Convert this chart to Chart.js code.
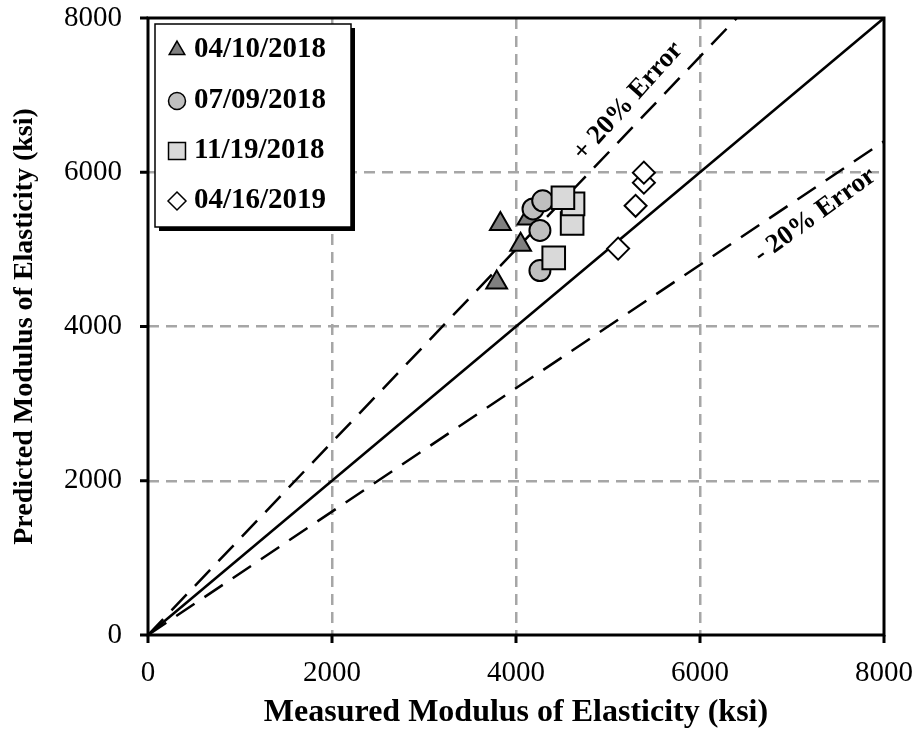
<!DOCTYPE html>
<html>
<head>
<meta charset="utf-8">
<script src="https://cdn.jsdelivr.net/npm/chart.js@4.4.0/dist/chart.umd.min.js"></script>
<style>
  html, body { margin: 0; padding: 0; background: #fff; }
  #wrap { width: 920px; height: 734px; }
</style>
</head>
<body>
<div id="wrap"><canvas id="chart" width="920" height="734"></canvas></div>
<script>
// Sampling dates
const seriesNames = ['04/10/2018', '07/09/2018', '11/19/2018', '04/16/2019'];

// Measured vs predicted modulus (ksi) for each date
const measured0410 = [3790, 3830, 4050, 4130];
const predicted0410 = [4570, 5330, 5060, 5400];
const measured0709 = [4185, 4290, 4260, 4260];
const predicted0709 = [5525, 5630, 5245, 4725];
const measured1119 = [4410, 4610, 4620, 4510];
const predicted1119 = [4890, 5335, 5590, 5670];
const measured0416 = [5110, 5300, 5390, 5390];
const predicted0416 = [5010, 5565, 5865, 5995];

// Equality line and +/- 20% error bounds
const equalityX = [0, 8000];
const equalityY = [0, 8000];
const upperX = [0, 6400];
const upperY = [0, 8000];
const lowerX = [0, 8000];
const lowerY = [0, 6400];

const axisTicks = [0, 2000, 4000, 6000, 8000];
const upperLabel = '+ 20% Error';
const lowerLabel = '- 20% Error';

const FONT = "'Liberation Serif', 'Times New Roman', serif";

function toPoints(xs, ys) {
    return xs.map((x, i) => ({ x: x, y: ys[i] }));
}

const markerStyles = [
    { pointStyle: 'triangle', radius: 12, fill: '#808080' },
    { pointStyle: 'circle', radius: 10.5, fill: '#bfbfbf' },
    { pointStyle: 'rect', radius: 16, fill: '#d9d9d9' },
    { pointStyle: 'rectRot', radius: 11, fill: '#ffffff' }
];
const seriesData = [
    toPoints(measured0410, predicted0410),
    toPoints(measured0709, predicted0709),
    toPoints(measured1119, predicted1119),
    toPoints(measured0416, predicted0416)
];

const scatterSets = seriesNames.map((name, i) => ({
    type: 'scatter',
    label: name,
    data: seriesData[i],
    pointStyle: markerStyles[i].pointStyle,
    pointRadius: markerStyles[i].radius,
    pointHoverRadius: markerStyles[i].radius,
    backgroundColor: markerStyles[i].fill,
    borderColor: '#000',
    borderWidth: 2,
    order: 4 - i
}));

function refLine(label, xs, ys, dash) {
    return {
        type: 'line',
        label: label,
        data: toPoints(xs, ys),
        borderColor: '#000',
        borderWidth: 2.5,
        borderDash: dash,
        pointRadius: 0,
        fill: false,
        order: 10
    };
}

// Frame around the plot area plus outward tick marks
const framePlugin = {
    id: 'frame',
    afterDatasetsDraw(chart) {
        const a = chart.chartArea;
        const xs = chart.scales.x, ys = chart.scales.y;
        const ctx = chart.ctx;
        ctx.save();
        ctx.strokeStyle = '#000';
        ctx.lineWidth = 3;
        ctx.strokeRect(a.left, a.top, a.right - a.left, a.bottom - a.top);
        ctx.beginPath();
        axisTicks.forEach(v => {
            const px = xs.getPixelForValue(v);
            ctx.moveTo(px, a.bottom);
            ctx.lineTo(px, a.bottom + 8);
            const py = ys.getPixelForValue(v);
            ctx.moveTo(a.left, py);
            ctx.lineTo(a.left - 8, py);
        });
        ctx.stroke();
        ctx.restore();
    }
};

// Rotated labels for the error bounds
const errorLabelPlugin = {
    id: 'errorLabels',
    afterDatasetsDraw(chart) {
        const xs = chart.scales.x, ys = chart.scales.y;
        const ctx = chart.ctx;
        function drawAlong(text, cx, cy, angleDeg) {
            const px = xs.getPixelForValue(cx), py = ys.getPixelForValue(cy);
            ctx.save();
            ctx.translate(px, py);
            ctx.rotate(-angleDeg * Math.PI / 180);
            ctx.font = 'bold 27px ' + FONT;
            ctx.fillStyle = '#000';
            ctx.textAlign = 'center';
            ctx.textBaseline = 'middle';
            ctx.fillText(text, 0, 0);
            ctx.restore();
        }
        drawAlong(upperLabel, 5220, 6920, 48);
        drawAlong(lowerLabel, 7250, 5440, 36);
    }
};

// Boxed legend with a drop shadow inside the plot area
const legendPlugin = {
    id: 'boxLegend',
    afterDraw(chart) {
        const ctx = chart.ctx;
        const left = 155, top = 24, w = 196, h = 203;
        ctx.save();
        ctx.fillStyle = '#000';
        ctx.fillRect(left + 4, top + 4, w, h);
        ctx.fillStyle = '#fff';
        ctx.fillRect(left, top, w, h);
        ctx.strokeStyle = '#000';
        ctx.lineWidth = 1.5;
        ctx.strokeRect(left, top, w, h);
        const rowY = [49, 100, 150, 200];
        const legendRadius = [9, 8.5, 12, 9];
        seriesNames.forEach((name, i) => {
            ctx.fillStyle = markerStyles[i].fill;
            ctx.strokeStyle = '#000';
            ctx.lineWidth = 1.5;
            Chart.helpers.drawPoint(ctx, {
                pointStyle: markerStyles[i].pointStyle,
                radius: legendRadius[i],
                rotation: 0,
                borderWidth: 1.5
            }, 177, rowY[i] + 1);
            ctx.fillStyle = '#000';
            ctx.font = 'bold 29px ' + FONT;
            ctx.textAlign = 'left';
            ctx.textBaseline = 'middle';
            ctx.fillText(name, 194, rowY[i] + 1);
        });
        ctx.restore();
    }
};

const gridColor = (c) => (c.tick && (c.tick.value === 0 || c.tick.value === 8000)) ? 'rgba(0,0,0,0)' : '#a6a6a6';

const gridOpts = {
    color: gridColor,
    lineWidth: 2.5,
    drawTicks: true,
    tickLength: 8,
    tickColor: 'rgba(0,0,0,0)'
};

new Chart(document.getElementById('chart').getContext('2d'), {
    data: {
        datasets: [
            ...scatterSets,
            refLine('Equality', equalityX, equalityY, []),
            refLine('+20%', upperX, upperY, [22, 12]),
            refLine('-20%', lowerX, lowerY, [22, 12])
        ]
    },
    options: {
        responsive: false,
        animation: false,
        layout: { padding: { top: 17, right: 36, left: 0, bottom: 0 } },
        plugins: {
            legend: { display: false },
            tooltip: { enabled: false }
        },
        scales: {
            x: {
                type: 'linear',
                min: 0,
                max: 8000,
                afterBuildTicks: (scale) => { scale.ticks = axisTicks.map(v => ({ value: v })); },
                afterFit: (scale) => {
                    scale.height = 99;
                    scale.paddingLeft = 0;
                    scale.paddingRight = 0;
                },
                grid: gridOpts,
                border: { display: false, dash: [11, 7] },
                ticks: {
                    padding: 13,
                    color: '#000',
                    font: { family: FONT, size: 29 },
                    callback: (v) => String(v)
                },
                title: {
                    display: true,
                    text: 'Measured Modulus of Elasticity (ksi)',
                    color: '#000',
                    font: { family: FONT, size: 32, weight: 'bold' },
                    padding: { top: 0, bottom: 2 }
                }
            },
            y: {
                type: 'linear',
                min: 0,
                max: 8000,
                afterBuildTicks: (scale) => { scale.ticks = axisTicks.map(v => ({ value: v })); },
                afterFit: (scale) => {
                    scale.width = 148;
                    scale.paddingTop = 0;
                    scale.paddingBottom = 0;
                },
                grid: gridOpts,
                border: { display: false, dash: [11, 7] },
                ticks: {
                    padding: 18,
                    color: '#000',
                    font: { family: FONT, size: 29 },
                    callback: (v) => String(v)
                },
                title: {
                    display: true,
                    text: 'Predicted Modulus of Elasticity (ksi)',
                    color: '#000',
                    font: { family: FONT, size: 28, weight: 'bold' },
                    padding: { top: 8, bottom: 0 }
                }
            }
        }
    },
    plugins: [framePlugin, errorLabelPlugin, legendPlugin]
});
</script>
</body>
</html>
